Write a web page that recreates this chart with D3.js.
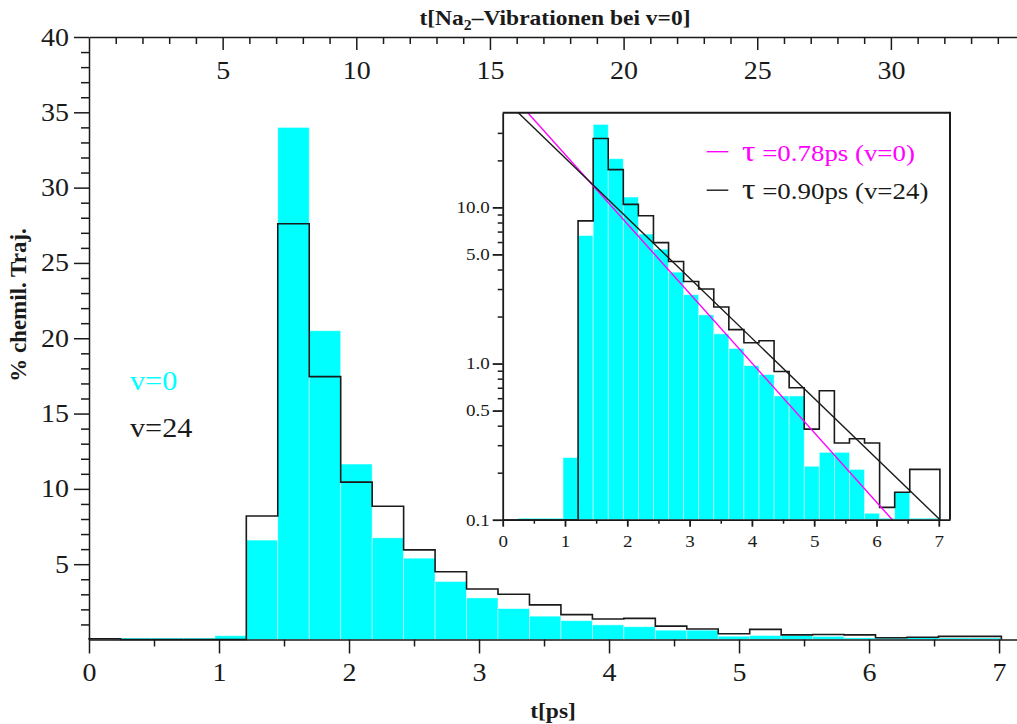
<!DOCTYPE html>
<html>
<head>
<meta charset="utf-8">
<script src="https://cdn.jsdelivr.net/npm/d3@7"></script>
<style>
  body { margin: 0; background: #fff; }
  svg { display: block; font-family: "Liberation Serif", "Times New Roman", serif; }
</style>
</head>
<body>
<script>
const [width, height] = [1017, 724];

// histogram of reaction times, 29 bins starting at 0 ps
const binWidth = 0.242;
const pctV0 = [0, 0.05, 0.05, 0.05, 0.25, 6.6, 34.0, 20.5, 11.65, 6.75, 5.4, 3.85, 2.76, 2.05, 1.55,
    1.25, 0.97, 0.85, 0.62, 0.62, 0.22, 0.27, 0.27, 0.21, 0.11, 0.08, 0.15, 0.05, 0.05];
const pctV24 = [0.05, 0, 0, 0, 0, 8.2, 27.6, 17.45, 10.45, 8.85, 5.95, 4.5, 3.35, 3.0, 2.3,
    1.65, 1.36, 1.40, 0.89, 0.70, 0.38, 0.67, 0.31, 0.33, 0.31, 0.12, 0.15, 0.21, 0.21];

// exponential fits drawn in the inset (amplitude in %, decay in ps)
const fitAmp = [61, 50.4];
const fitTau = [0.975, 1.128];
const fitLabels = ["\u03c4 =0.78ps (v=0)", "\u03c4 =0.90ps (v=24)"];
const seriesLabels = ["v=0", "v=24"];

const mainXTicks = [0, 1, 2, 3, 4, 5, 6, 7];
const mainYTicks = [5, 10, 15, 20, 25, 30, 35, 40];
const topTicks = [5, 10, 15, 20, 25, 30];
const vibPeriod = 0.2056; // ps per Na2 vibration
const insetXTicks = [0, 1, 2, 3, 4, 5, 6, 7];
const insetYTicks = [0.1, 0.5, 1, 5, 10];
const insetYLabels = ["0.1", "0.5", "1.0", "5.0", "10.0"];
const insetYMinor = [0.2, 0.3, 0.4, 0.6, 0.7, 0.8, 0.9, 2, 3, 4, 6, 7, 8, 9, 20, 30];

const SX = 1.12; // glyphs in the picture are a bit wide
const cyan = "#00ffff", magenta = "#ff00ff", ink = "#1a1a1a";
const nBins = pctV0.length;

const svg = d3.select("body").append("svg")
    .attr("width", width)
    .attr("height", height)
    .attr("viewBox", [0, 0, width, height]);

const x = d3.scaleLinear().domain([0, 7.138]).range([89, 1017]);
const y = d3.scaleLinear().domain([0, 40]).range([639.5, 37]);
const xTop = d3.scaleLinear().domain([0, 7.138 / vibPeriod]).range([89, 1017]);

const stretchTicks = (g, size, dx) => g.selectAll("text")
    .attr("font-size", size)
    .attr("fill", ink)
    .attr("font-family", "Liberation Serif, serif")
    .attr("transform", `scale(${SX},1)`)
    .attr("x", dx === undefined ? null : dx / SX);

const styleAxis = (g, w) => {
    g.selectAll("line").attr("stroke", ink).attr("stroke-width", w);
    g.selectAll("path").attr("stroke", ink).attr("stroke-width", w);
};

// main bars
svg.append("g")
    .selectAll("rect")
    .data(pctV0)
    .join("rect")
        .attr("x", (d, i) => x(i * binWidth))
        .attr("width", x(binWidth) - x(0))
        .attr("y", d => y(d) - (d > 0 && y(0) - y(d) < 1.5 ? 1.5 - (y(0) - y(d)) : 0))
        .attr("height", d => d > 0 ? Math.max(y(0) - y(d), 1.5) : 0)
        .attr("fill", cyan)
        .attr("stroke", "#ffffff")
        .attr("stroke-opacity", 0.6)
        .attr("stroke-width", 0.8);

const stepPoints = vals => [[0, 0], ...vals.map((v, i) => [i * binWidth, v]), [nBins * binWidth, 0]];

svg.append("path")
    .datum(stepPoints(pctV24))
    .attr("fill", "none")
    .attr("stroke", ink)
    .attr("stroke-width", 1.6)
    .attr("d", d3.line().curve(d3.curveStepAfter).x(d => x(d[0])).y(d => y(d[1])));

// main axes
svg.append("g")
    .attr("transform", `translate(0,${y(0)})`)
    .call(d3.axisBottom(x).tickValues(d3.range(0.5, 7.1, 1)).tickSize(7).tickFormat("").tickSizeOuter(0))
    .call(g => g.select(".domain").remove())
    .call(g => styleAxis(g, 1.5));
svg.append("g")
    .attr("transform", `translate(0,${y(0)})`)
    .call(d3.axisBottom(x).tickValues(mainXTicks).tickSize(14).tickSizeOuter(0).tickPadding(10))
    .call(g => styleAxis(g, 1.5))
    .call(g => stretchTicks(g, 25));

svg.append("g")
    .attr("transform", `translate(${x(0)},0)`)
    .call(d3.axisLeft(y).tickValues(d3.range(1, 40, 1).filter(v => v % 5)).tickSize(8).tickFormat(""))
    .call(g => g.select(".domain").remove())
    .call(g => styleAxis(g, 1.5));
svg.append("g")
    .attr("transform", `translate(${x(0)},0)`)
    .call(d3.axisLeft(y).tickValues(mainYTicks).tickSize(15).tickSizeOuter(0))
    .call(g => styleAxis(g, 1.5))
    .call(g => stretchTicks(g, 25, -20));

svg.append("g")
    .attr("transform", `translate(0,${y(40)})`)
    .call(d3.axisBottom(xTop).tickValues(d3.range(1, 35, 1).filter(v => v % 5)).tickSize(7).tickFormat(""))
    .call(g => g.select(".domain").remove())
    .call(g => styleAxis(g, 1.5));
svg.append("g")
    .attr("transform", `translate(0,${y(40)})`)
    .call(d3.axisBottom(xTop).tickValues(topTicks).tickSize(13).tickSizeOuter(0).tickPadding(11))
    .call(g => styleAxis(g, 1.5))
    .call(g => stretchTicks(g, 25));

// inset
const xi = d3.scaleLinear().domain([0, 7.18]).range([502.7, 950]);
const yi = d3.scaleLog().domain([0.1, 40.4]).range([519.7, 112.7]);
const floor = 0.1;

svg.append("defs").append("clipPath").attr("id", "inset-clip")
    .append("rect")
        .attr("x", xi(0)).attr("y", yi(40.4))
        .attr("width", xi(7.18) - xi(0)).attr("height", yi(floor) - yi(40.4));

svg.append("rect")
    .attr("x", xi(0)).attr("y", yi(40.4))
    .attr("width", xi(7.18) - xi(0)).attr("height", yi(floor) - yi(40.4))
    .attr("fill", "#ffffff");

const inset = svg.append("g").attr("clip-path", "url(#inset-clip)");

inset.append("g")
    .selectAll("rect")
    .data(pctV0)
    .join("rect")
        .attr("x", (d, i) => xi(i * binWidth))
        .attr("width", xi(binWidth) - xi(0))
        .attr("y", d => d > 0 ? Math.min(yi(Math.max(d, floor)), yi(floor) - 1.5) : yi(floor))
        .attr("height", d => d > 0 ? Math.max(yi(floor) - yi(Math.max(d, floor)), 1.5) : 0)
        .attr("fill", cyan)
        .attr("stroke", "#ffffff")
        .attr("stroke-opacity", 0.6)
        .attr("stroke-width", 0.8);

inset.append("path")
    .datum(stepPoints(pctV24).map(([t, v]) => [t, Math.max(v, floor)]))
    .attr("fill", "none")
    .attr("stroke", ink)
    .attr("stroke-width", 1.6)
    .attr("d", d3.line().curve(d3.curveStepAfter).x(d => xi(d[0])).y(d => yi(d[1])));

const fitColors = [magenta, ink];
fitAmp.forEach((a, k) => {
    const tEnd = fitTau[k] * Math.log(a / 0.05);
    inset.append("path")
        .datum([0, tEnd].map(t => [t, a * Math.exp(-t / fitTau[k])]))
        .attr("fill", "none")
        .attr("stroke", fitColors[k])
        .attr("stroke-width", 1.4)
        .attr("d", d3.line().x(d => xi(d[0])).y(d => yi(d[1])));
});

// inset frame and axes
svg.append("path")
    .attr("fill", "none")
    .attr("stroke", ink)
    .attr("stroke-width", 2)
    .attr("d", `M${xi(0)},${yi(40.4)}H${xi(7.18)}V${yi(floor)}`);

svg.append("g")
    .attr("transform", `translate(0,${yi(floor)})`)
    .call(d3.axisBottom(xi).tickValues(d3.range(0.5, 7.1, 1)).tickSize(4).tickFormat(""))
    .call(g => g.select(".domain").remove())
    .call(g => styleAxis(g, 1.5));
svg.append("g")
    .attr("transform", `translate(0,${yi(floor)})`)
    .call(d3.axisBottom(xi).tickValues(insetXTicks).tickSize(7).tickSizeOuter(0).tickPadding(8))
    .call(g => styleAxis(g, 1.8))
    .call(g => stretchTicks(g, 17));

svg.append("g")
    .attr("transform", `translate(${xi(0)},0)`)
    .call(d3.axisLeft(yi).tickValues(insetYMinor).tickSize(5).tickFormat(""))
    .call(g => g.select(".domain").remove())
    .call(g => styleAxis(g, 1.5));
svg.append("g")
    .attr("transform", `translate(${xi(0)},0)`)
    .call(d3.axisLeft(yi).tickValues(insetYTicks).tickSize(10).tickSizeOuter(0)
        .tickFormat((d, i) => insetYLabels[i]))
    .call(g => styleAxis(g, 1.8))
    .call(g => stretchTicks(g, 17, -13));

// inset legend
fitLabels.forEach((lbl, k) => {
    const ly = 151.7 + k * 38.5;
    svg.append("line")
        .attr("x1", 706.7).attr("x2", 728.3)
        .attr("y1", ly).attr("y2", ly)
        .attr("stroke", fitColors[k])
        .attr("stroke-width", 1.4);
    const t = svg.append("text")
        .attr("transform", `translate(742,${ly + 9}) scale(${SX},1)`)
        .attr("font-size", 24)
        .attr("fill", fitColors[k]);
    t.append("tspan").attr("font-size", 30).text(lbl.slice(0, 1));
    t.append("tspan").text(lbl.slice(1));
});

// main legend
seriesLabels.forEach((lbl, k) => {
    svg.append("text")
        .attr("transform", `translate(130,${390 + k * 47}) scale(${SX},1)`)
        .attr("font-size", 27)
        .attr("fill", k === 0 ? cyan : ink)
        .text(lbl);
});

// titles
const title = svg.append("text")
    .attr("transform", `translate(555,25) scale(${SX},1)`)
    .attr("text-anchor", "middle")
    .attr("font-size", 21)
    .attr("font-weight", "bold")
    .attr("fill", ink);
title.append("tspan").text("t[Na");
title.append("tspan").attr("font-size", 14).attr("dy", 5).text("2");
title.append("tspan").attr("dy", -5).text("\u2013Vibrationen bei v=0]");

svg.append("text")
    .attr("transform", `translate(553,718) scale(${SX},1)`)
    .attr("text-anchor", "middle")
    .attr("font-size", 21)
    .attr("font-weight", "bold")
    .attr("fill", ink)
    .text("t[ps]");

svg.append("text")
    .attr("transform", `translate(26,305) rotate(-90)`)
    .attr("text-anchor", "middle")
    .attr("font-size", 23)
    .attr("font-weight", "bold")
    .attr("fill", ink)
    .text("% chemil. Traj.");
</script>
</body>
</html>
